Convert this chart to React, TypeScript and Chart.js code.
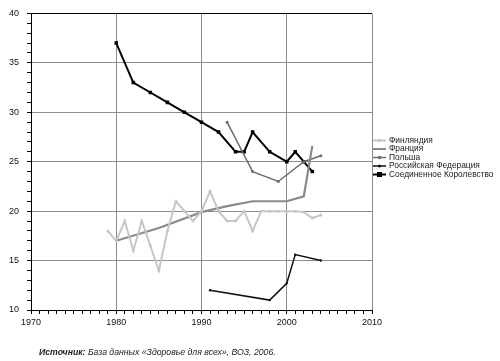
import React, { useEffect, useRef } from "react";
import { Chart, registerables } from "chart.js";

Chart.register(...registerables);

const FONT = "'Liberation Sans', Arial, sans-serif";

const seriesNames = [
  "Финляндия",
  "Франция",
  "Польша",
  "Российская Федерация",
  "Соединенное Королевство",
];

const finlandYears = [1979, 1980, 1981, 1982, 1983, 1984, 1985, 1986, 1987, 1988, 1989, 1990, 1991, 1992, 1993, 1994, 1995, 1996, 1997, 1998, 1999, 2000, 2001, 2002, 2003, 2004];
const finlandValues = [18, 17, 19, 16, 19, 16.5, 14, 18, 21, 20, 19, 20, 22, 20, 19, 19, 20, 18, 20, 20, 20, 20, 20, 19.9, 19.3, 19.6];

const franceYears = [1980, 1985, 1990, 1993, 1996, 2000, 2002, 2003];
const franceValues = [17, 18.3, 19.9, 20.5, 21, 21, 21.5, 26.6];

const polandYears = [1993, 1996, 1999, 2002, 2004];
const polandValues = [29, 24, 23, 25, 25.6];

const russiaYears = [1991, 1998, 2000, 2001, 2004];
const russiaValues = [12, 11, 12.7, 15.6, 15];

const ukYears = [1980, 1982, 1984, 1986, 1988, 1990, 1992, 1994, 1995, 1996, 1998, 2000, 2001, 2002, 2003];
const ukValues = [37, 33, 32, 31, 30, 29, 28, 26, 26, 28, 26, 25, 26, 25, 24];

const xTickLabels = [1970, 1980, 1990, 2000, 2010];
const yTickLabels = [10, 15, 20, 25, 30, 35, 40];

const sourceBold = "Источник:";
const sourceRest = " База данных «Здоровье для всех», ВОЗ, 2006.";

const styles = [
  { color: "#c6c6c6", width: 2, radius: 1.5, style: "circle" },
  { color: "#8a8a8a", width: 2.2, radius: 0, style: "circle" },
  { color: "#6e6e6e", width: 1.5, radius: 1.5, style: "circle" },
  { color: "#111111", width: 1.5, radius: 1.2, style: "circle" },
  { color: "#000000", width: 2, radius: 2.5, style: "rect" },
];

function pts(xs: number[], ys: number[]) {
  return xs.map((x, i) => ({ x, y: ys[i] }));
}

const overlayPlugin = {
  id: "overlay",
  afterDraw(chart: any) {
    const ctx = chart.ctx as CanvasRenderingContext2D;
    ctx.save();
    const ys = [140.5, 149, 157.5, 166, 174.5];
    seriesNames.forEach((name, i) => {
      const s = styles[i];
      const y = ys[i];
      ctx.strokeStyle = s.color;
      ctx.lineWidth = Math.min(s.width, 2);
      ctx.beginPath();
      ctx.moveTo(373, y);
      ctx.lineTo(386, y);
      ctx.stroke();
      if (s.radius > 0) {
        ctx.fillStyle = s.color;
        if (s.style === "rect") {
          ctx.fillRect(379.5 - 2.5, y - 2.5, 5, 5);
        } else {
          ctx.beginPath();
          ctx.arc(379.5, y, s.radius + 0.3, 0, Math.PI * 2);
          ctx.fill();
        }
      }
      ctx.fillStyle = "#222";
      ctx.font = `8.4px ${FONT}`;
      ctx.textBaseline = "middle";
      ctx.textAlign = "left";
      ctx.fillText(name, 389, y);
    });
    ctx.textBaseline = "alphabetic";
    ctx.fillStyle = "#222";
    ctx.font = `italic bold 8.7px ${FONT}`;
    ctx.fillText(sourceBold, 39, 355);
    const w = ctx.measureText(sourceBold).width;
    ctx.font = `italic 8.7px ${FONT}`;
    ctx.fillText(sourceRest, 39 + w, 355);
    ctx.restore();
  },
};

export default function App() {
  const ref = useRef<HTMLCanvasElement | null>(null);
  useEffect(() => {
    if (!ref.current) return;
    const seriesPts = [
      pts(finlandYears, finlandValues),
      pts(franceYears, franceValues),
      pts(polandYears, polandValues),
      pts(russiaYears, russiaValues),
      pts(ukYears, ukValues),
    ];
    const chart = new Chart(ref.current, {
      type: "line",
      data: {
        datasets: seriesNames.map((name, i) => ({
          label: name,
          data: seriesPts[i],
          borderColor: styles[i].color,
          backgroundColor: styles[i].color,
          borderWidth: styles[i].width,
          pointRadius: styles[i].radius,
          pointStyle: styles[i].style as any,
          pointBorderWidth: 0,
          pointHoverRadius: styles[i].radius,
          tension: 0,
          fill: false,
        })),
      },
      options: {
        responsive: false,
        animation: false,
        events: [],
        layout: { padding: { top: 12, right: 128, left: 0, bottom: 0 } },
        plugins: { legend: { display: false }, tooltip: { enabled: false } },
        scales: {
          x: {
            type: "linear",
            min: 1970,
            max: 2010,
            afterFit: (s: any) => {
              s.height = 51;
            },
            ticks: {
              stepSize: 1,
              autoSkip: false,
              maxTicksLimit: 100,
              maxRotation: 0,
              padding: 3,
              color: "#111",
              font: { size: 9, family: FONT },
              callback: (v: any) => (xTickLabels.includes(Number(v)) ? String(v) : ""),
            },
            grid: {
              color: (c: any) =>
                c.tick && xTickLabels.includes(c.tick.value) && c.tick.value !== 1970 ? "#8c8c8c" : "rgba(0,0,0,0)",
              tickColor: "#000",
              tickLength: 4,
              lineWidth: 1,
            },
            border: { color: "#000", width: 1 },
          },
          y: {
            type: "linear",
            min: 10,
            max: 40,
            afterFit: (s: any) => {
              s.width = 31;
            },
            ticks: {
              stepSize: 1,
              autoSkip: false,
              maxTicksLimit: 100,
              padding: 8,
              color: "#111",
              font: { size: 9, family: FONT },
              callback: (v: any) => (yTickLabels.includes(Number(v)) ? String(v) : ""),
            },
            grid: {
              color: (c: any) => {
                const v = c.tick ? c.tick.value : 0;
                if (v === 40) return "#000";
                if (v === 10) return "rgba(0,0,0,0)";
                return yTickLabels.includes(v) ? "#8c8c8c" : "rgba(0,0,0,0)";
              },
              tickColor: "#000",
              tickLength: 4,
              lineWidth: 1,
            },
            border: { color: "#000", width: 1 },
          },
        },
      },
      plugins: [overlayPlugin],
    });
    return () => chart.destroy();
  }, []);
  return (
    <div style={{ position: "absolute", left: 0, top: 0, width: 500, height: 361, background: "#fff" }}>
      <canvas ref={ref} width={500} height={361} />
    </div>
  );
}
